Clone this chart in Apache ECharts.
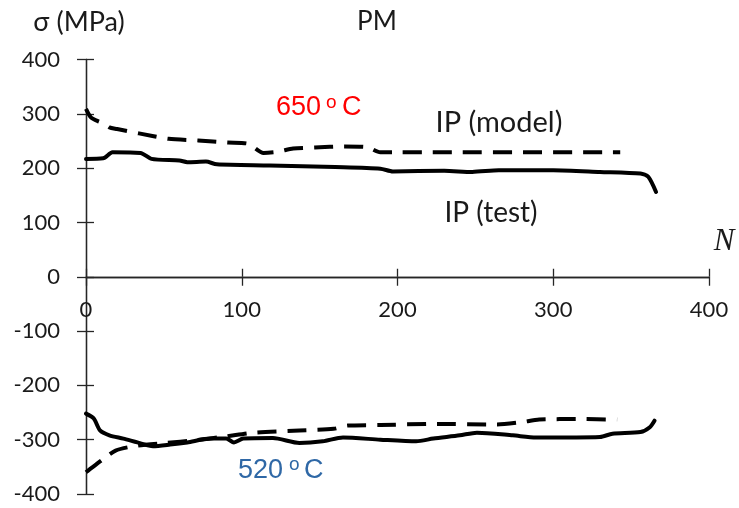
<!DOCTYPE html>
<html>
<head>
<meta charset="utf-8">
<script src="https://cdn.jsdelivr.net/npm/echarts@6/dist/echarts.min.js"></script>
<style>
  html, body { margin: 0; padding: 0; background: #ffffff; }
  #chart { width: 739px; height: 508px; }
</style>
</head>
<body>
<div id="chart"></div>
<script>
// Stress response σ (MPa) against cycle number N, [N, σ] pairs
const ipTest650 = [
  [0, 217], [11, 218], [17, 229], [35, 228], [42, 217], [60, 214], [65, 211],
  [77, 212], [84, 207], [118, 205], [160, 202], [189, 199], [197, 194],
  [230, 195], [248, 193], [265, 196], [300, 196], [330, 193], [356, 190],
  [361, 184], [366, 156]
];
const ipModel650 = [
  [0, 309], [3, 294], [8, 286], [12, 282], [15, 275], [20, 272], [34, 264],
  [53, 254], [72, 251], [91, 247], [104, 245], [114, 228], [123, 230],
  [133, 236], [147, 238], [166, 240], [180, 239], [189, 229], [200, 229],
  [343, 229]
];
const ipTest520 = [
  [0, -252], [5, -261], [9, -283], [15, -292], [24, -298], [33, -305],
  [43, -312], [54, -309], [65, -305], [80, -298], [90, -298], [95, -305],
  [101, -298], [120, -297], [137, -306], [152, -303], [165, -296],
  [189, -300], [212, -303], [223, -298], [240, -292], [251, -287],
  [274, -292], [289, -296], [330, -295], [338, -289], [356, -286],
  [362, -277], [365, -265]
];
const ipModel520 = [
  [0, -360], [4, -351], [10, -338], [19, -320], [33, -311], [51, -306],
  [70, -301], [90, -294], [108, -287], [137, -283], [159, -280], [168, -274],
  [189, -273], [221, -271], [264, -272], [279, -268], [291, -263],
  [317, -262], [341, -263]
];

// Axis ranges and tick spacing
const nRange = [0, 400];
const nStep = 100;
const sigmaRange = [-400, 400];
const sigmaStep = 100;

const AXIS_COLOR = '#262626';
const TEXT_COLOR = '#1a1a1a';
const LABEL_FONT = 'Lato, "Open Sans", sans-serif';
const TEMP_FONT = '"Liberation Sans", Arial, sans-serif';

// Plot rectangle; the σ = 0 level sits half way down because the σ range is symmetric
const PLOT = { left: 86, right: 30, top: 59.5, bottom: 14 };
const CHART_H = 508;
const zeroShift = (CHART_H - PLOT.top - PLOT.bottom) *
  (0 - sigmaRange[0]) / (sigmaRange[1] - sigmaRange[0]);

function gridRect() {
  return Object.assign({ containLabel: false }, PLOT);
}

// Grid 0 carries the data, labels and the outer half of each tick;
// grid 1 is an identical overlay whose axes add the inner half of each tick.
function nAxis(gridIndex, position, tickLen, showLabels) {
  return {
    type: 'value',
    gridIndex: gridIndex,
    position: position,
    offset: -zeroShift,
    min: nRange[0],
    max: nRange[1],
    interval: nStep,
    splitLine: { show: false },
    axisLine: { show: true, onZero: false, lineStyle: { color: AXIS_COLOR, width: 1.3 } },
    axisTick: { show: true, inside: false, length: tickLen, lineStyle: { color: AXIS_COLOR, width: 1.3 } },
    axisLabel: showLabels ? {
      show: true, margin: 22, color: TEXT_COLOR, fontFamily: LABEL_FONT, fontSize: 22
    } : { show: false }
  };
}

function sigmaAxis(gridIndex, position, tickLen, showLabels) {
  return {
    type: 'value',
    gridIndex: gridIndex,
    position: position,
    min: sigmaRange[0],
    max: sigmaRange[1],
    interval: sigmaStep,
    splitLine: { show: false },
    axisLine: { show: true, onZero: true, lineStyle: { color: AXIS_COLOR, width: 1.3 } },
    axisTick: { show: true, inside: false, length: tickLen, lineStyle: { color: AXIS_COLOR, width: 1.3 } },
    axisLabel: showLabels ? {
      show: true, margin: 26, color: TEXT_COLOR, fontFamily: LABEL_FONT, fontSize: 22
    } : { show: false }
  };
}

function curve(data, dashed) {
  return {
    type: 'line',
    data: data,
    xAxisIndex: 0,
    yAxisIndex: 0,
    symbol: 'none',
    showSymbol: false,
    smooth: 0.25,
    silent: true,
    lineStyle: {
      color: '#000000',
      width: 4,
      type: dashed ? [19, 11] : 'solid',
      cap: dashed ? 'butt' : 'round',
      join: 'round'
    },
    z: 5
  };
}

function label(text, x, y, font, fill, align) {
  return {
    type: 'text',
    x: x,
    y: y,
    silent: true,
    style: {
      text: text,
      font: font,
      fill: fill,
      align: align || 'center',
      verticalAlign: 'middle',
      textAlign: align || 'center',
      textVerticalAlign: 'middle'
    }
  };
}

const chart = echarts.init(document.getElementById('chart'), null, { renderer: 'canvas' });

chart.setOption({
  animation: false,
  backgroundColor: '#ffffff',
  grid: [gridRect(), gridRect()],
  xAxis: [
    nAxis(0, 'bottom', 9, true),
    nAxis(1, 'top', 8, false)
  ],
  yAxis: [
    sigmaAxis(0, 'left', 9, true),
    sigmaAxis(1, 'right', 8, false)
  ],
  series: [
    curve(ipTest650, false),
    curve(ipModel650, true),
    curve(ipTest520, false),
    curve(ipModel520, true)
  ],
  graphic: [
    label('σ (MPa)', 79, 22, '27px ' + LABEL_FONT, TEXT_COLOR),
    label('PM', 377, 22, '26px ' + LABEL_FONT, TEXT_COLOR),
    label('IP (model)', 499, 123, '29px ' + LABEL_FONT, TEXT_COLOR),
    label('IP (test)', 491, 213, '28px ' + LABEL_FONT, TEXT_COLOR),
    label('N', 724, 242, 'italic 31px "Liberation Serif", "DejaVu Serif", serif', TEXT_COLOR),

    label('650', 276, 108, '27px ' + TEMP_FONT, '#ff0000', 'left'),
    label('o', 326, 102.5, '19px ' + TEMP_FONT, '#ff0000', 'left'),
    label('C', 342, 108, '27px ' + TEMP_FONT, '#ff0000', 'left'),

    label('520', 238, 471, '27px ' + TEMP_FONT, '#2f68a6', 'left'),
    label('o', 289, 464.5, '19px ' + TEMP_FONT, '#2f68a6', 'left'),
    label('C', 304, 471, '27px ' + TEMP_FONT, '#2f68a6', 'left')
  ]
});
</script>
</body>
</html>
